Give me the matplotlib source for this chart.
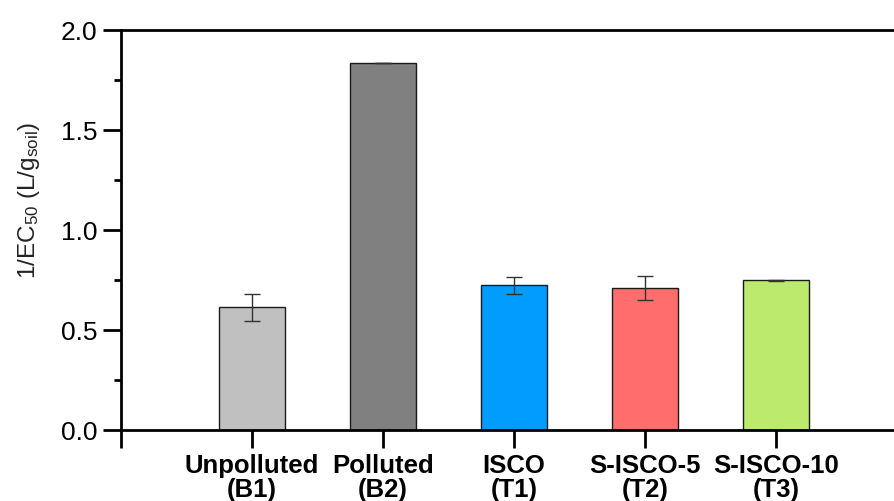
import matplotlib
matplotlib.use("Agg")
import matplotlib.pyplot as plt
from matplotlib.ticker import MultipleLocator

plt.rcParams['font.family'] = ['Liberation Sans', 'DejaVu Sans']
plt.rcParams['mathtext.fontset'] = 'custom'
plt.rcParams['mathtext.rm'] = 'Liberation Sans'
plt.rcParams['mathtext.it'] = 'Liberation Sans'

# data
labels = ["Unpolluted\n(B1)", "Polluted\n(B2)", "ISCO\n(T1)", "S-ISCO-5\n(T2)", "S-ISCO-10\n(T3)"]
values = [0.613, 1.833, 0.723, 0.712, 0.748]
errors = [0.067, 0.0, 0.042, 0.060, 0.002]
colors = ["#c0c0c0", "#808080", "#009dff", "#ff6d6d", "#bbea6c"]

fig = plt.figure(figsize=(8.95, 5.01), dpi=100)
ax = fig.add_axes([121/895, 71/501, 786/895, 400/501])

x = list(range(1, len(values) + 1))
ax.bar(x, values, width=0.5, color=colors, edgecolor="#1a1a1a", linewidth=1.0, zorder=2)
ax.errorbar(x, values, yerr=errors, fmt="none", ecolor="#333333", elinewidth=1.0,
            capsize=5.8, capthick=1.0, zorder=3)

ax.set_xlim(0, 6)
ax.set_ylim(0, 2.0)

# x ticks at 0..6, labels only for the bars
ax.set_xticks(range(0, 7))
ax.set_xticklabels([""] + labels + [""], fontsize=18.5, fontweight="bold", linespacing=1.0)
ax.tick_params(axis="x", direction="out", length=13, width=2, pad=4)

ax.yaxis.set_major_locator(MultipleLocator(0.5))
ax.yaxis.set_minor_locator(MultipleLocator(0.25))
ax.set_yticks([0, 0.5, 1.0, 1.5, 2.0])
ax.set_yticklabels(["0.0", "0.5", "1.0", "1.5", "2.0"], fontsize=19)
ax.tick_params(axis="y", which="major", direction="out", length=13, width=2, pad=4)
ax.tick_params(axis="y", which="minor", direction="out", length=5, width=2)

ax.set_ylabel(r"1/EC$_{\mathregular{50}}$ (L/g$_{\mathregular{soil}}$)", fontsize=17.5,
              color="#222222")
ax.yaxis.set_label_coords(-0.10, 0.575)

for s in ["left", "bottom", "top"]:
    ax.spines[s].set_linewidth(2)
ax.spines["right"].set_visible(False)

fig.savefig("out.png", dpi=100)
